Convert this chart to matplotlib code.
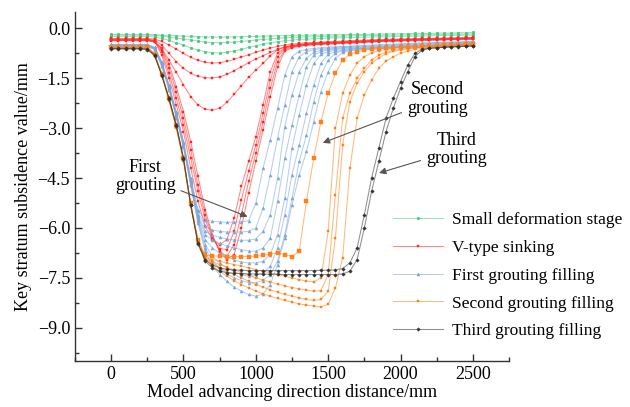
import matplotlib
matplotlib.use('Agg')
import matplotlib.pyplot as plt
from matplotlib.ticker import MultipleLocator, FuncFormatter

plt.rcParams['font.family'] = ['Liberation Serif', 'DejaVu Serif']

# distance along the model (mm)
dist = [0, 50, 100, 150, 200, 250, 300, 350, 400, 450,
        500, 550, 600, 650, 700, 750, 800, 850, 900, 950,
        1000, 1050, 1100, 1150, 1200, 1250, 1300, 1350, 1400, 1450,
        1500, 1550, 1600, 1650, 1700, 1750, 1800, 1850, 1900, 1950,
        2000, 2050, 2100, 2150, 2200, 2250, 2300, 2350, 2400, 2450,
        2500]

# small deformation stage
g1 = [-0.18, -0.18, -0.18, -0.18, -0.18, -0.18, -0.19, -0.2, -0.21, -0.22,
      -0.23, -0.24, -0.25, -0.25, -0.26, -0.26, -0.26, -0.25, -0.25, -0.24,
      -0.24, -0.23, -0.23, -0.22, -0.22, -0.21, -0.21, -0.2, -0.2, -0.2,
      -0.19, -0.19, -0.19, -0.18, -0.18, -0.18, -0.17, -0.17, -0.17, -0.16,
      -0.16, -0.16, -0.15, -0.15, -0.15, -0.14, -0.14, -0.14, -0.13, -0.13,
      -0.12]
g2 = [-0.2, -0.2, -0.2, -0.2, -0.2, -0.2, -0.21, -0.23, -0.26, -0.29,
      -0.32, -0.35, -0.38, -0.41, -0.43, -0.43, -0.42, -0.41, -0.39, -0.37,
      -0.35, -0.33, -0.31, -0.3, -0.28, -0.27, -0.26, -0.25, -0.25, -0.24,
      -0.24, -0.23, -0.23, -0.22, -0.22, -0.21, -0.21, -0.21, -0.2, -0.2,
      -0.2, -0.19, -0.19, -0.19, -0.18, -0.18, -0.18, -0.17, -0.17, -0.17,
      -0.16]
g3 = [-0.24, -0.24, -0.24, -0.24, -0.24, -0.24, -0.26, -0.3, -0.36, -0.43,
      -0.5, -0.58, -0.65, -0.7, -0.73, -0.74, -0.72, -0.68, -0.63, -0.57,
      -0.52, -0.47, -0.43, -0.4, -0.37, -0.35, -0.33, -0.32, -0.31, -0.3,
      -0.29, -0.28, -0.28, -0.27, -0.27, -0.26, -0.26, -0.25, -0.25, -0.24,
      -0.24, -0.23, -0.23, -0.23, -0.22, -0.22, -0.21, -0.21, -0.21, -0.2,
      -0.2]

# V-type sinking
r1 = [-0.3, -0.3, -0.3, -0.3, -0.3, -0.3, -0.32, -0.39, -0.5, -0.62,
      -0.75, -0.87, -0.96, -1.02, -1.04, -1.03, -0.99, -0.93, -0.86, -0.79,
      -0.72, -0.65, -0.59, -0.54, -0.5, -0.47, -0.45, -0.43, -0.42, -0.41,
      -0.4, -0.39, -0.38, -0.37, -0.36, -0.35, -0.34, -0.34, -0.33, -0.32,
      -0.32, -0.31, -0.31, -0.3, -0.3, -0.29, -0.29, -0.28, -0.28, -0.27,
      -0.27]
r2 = [-0.32, -0.32, -0.32, -0.32, -0.32, -0.32, -0.35, -0.5, -0.75, -1.0,
      -1.2, -1.35, -1.44, -1.48, -1.49, -1.46, -1.38, -1.27, -1.15, -1.03,
      -0.92, -0.82, -0.72, -0.63, -0.56, -0.51, -0.48, -0.46, -0.44, -0.43,
      -0.42, -0.41, -0.4, -0.39, -0.38, -0.37, -0.36, -0.35, -0.35, -0.34,
      -0.33, -0.33, -0.32, -0.32, -0.31, -0.31, -0.3, -0.3, -0.29, -0.29,
      -0.28]
r3 = [-0.33, -0.33, -0.33, -0.33, -0.33, -0.33, -0.38, -0.6, -0.95, -1.32,
      -1.7, -2.05, -2.3, -2.43, -2.46, -2.4, -2.22, -1.98, -1.72, -1.47,
      -1.25, -1.05, -0.82, -0.64, -0.56, -0.52, -0.49, -0.47, -0.45, -0.44,
      -0.43, -0.42, -0.41, -0.4, -0.39, -0.38, -0.37, -0.36, -0.36, -0.35,
      -0.34, -0.34, -0.33, -0.33, -0.32, -0.32, -0.31, -0.31, -0.3, -0.3,
      -0.29]
r4 = [-0.34, -0.34, -0.34, -0.34, -0.34, -0.34, -0.38, -0.8, -1.5, -2.3,
      -3.1, -4.2, -5.2, -5.95, -6.35, -6.5, -6.35, -5.7, -4.75, -4.0,
      -3.25, -2.3, -1.3, -0.75, -0.58, -0.53, -0.5, -0.48, -0.46, -0.45,
      -0.44, -0.43, -0.42, -0.41, -0.4, -0.39, -0.38, -0.37, -0.36, -0.36,
      -0.35, -0.34, -0.34, -0.33, -0.33, -0.32, -0.32, -0.31, -0.31, -0.3,
      -0.3]
r5 = [-0.35, -0.35, -0.35, -0.35, -0.35, -0.35, -0.39, -0.72, -1.35, -2.1,
      -2.9, -3.9, -4.9, -5.75, -6.3, -6.62, -6.65, -6.1, -5.15, -4.3,
      -3.5, -2.55, -1.55, -0.85, -0.6, -0.54, -0.51, -0.49, -0.47, -0.46,
      -0.45, -0.44, -0.43, -0.42, -0.41, -0.4, -0.39, -0.38, -0.37, -0.37,
      -0.36, -0.35, -0.35, -0.34, -0.34, -0.33, -0.33, -0.32, -0.32, -0.31,
      -0.31]
r6 = [-0.36, -0.36, -0.36, -0.36, -0.36, -0.36, -0.4, -0.65, -1.2, -1.9,
      -2.7, -3.65, -4.7, -5.6, -6.25, -6.7, -6.85, -6.5, -5.6, -4.6,
      -3.75, -2.8, -1.8, -1.0, -0.64, -0.56, -0.52, -0.5, -0.48, -0.47,
      -0.46, -0.45, -0.44, -0.43, -0.42, -0.41, -0.4, -0.39, -0.38, -0.38,
      -0.37, -0.36, -0.36, -0.35, -0.35, -0.34, -0.34, -0.33, -0.33, -0.32,
      -0.32]
r7 = [-0.37, -0.37, -0.37, -0.37, -0.37, -0.37, -0.41, -0.6, -1.08, -1.75,
      -2.5, -3.4, -4.45, -5.45, -6.2, -6.72, -6.95, -6.8, -6.0, -4.95,
      -4.0, -3.05, -2.05, -1.15, -0.68, -0.58, -0.54, -0.51, -0.49, -0.48,
      -0.47, -0.46, -0.45, -0.44, -0.43, -0.42, -0.41, -0.4, -0.39, -0.39,
      -0.38, -0.37, -0.37, -0.36, -0.36, -0.35, -0.35, -0.34, -0.34, -0.33,
      -0.33]

# first grouting filling
b1 = [-0.48, -0.48, -0.48, -0.48, -0.48, -0.48, -0.56, -1.0, -1.7, -2.5,
      -3.4, -4.5, -5.45, -5.75, -5.8, -5.82, -5.83, -5.83, -5.82, -5.78,
      -5.25, -4.2, -3.35, -2.4, -1.4, -0.85, -0.68, -0.63, -0.6, -0.58,
      -0.56, -0.55, -0.54, -0.53, -0.52, -0.51, -0.5, -0.49, -0.48, -0.47,
      -0.46, -0.45, -0.44, -0.43, -0.43, -0.42, -0.41, -0.41, -0.4, -0.4,
      -0.39]
b2 = [-0.49, -0.49, -0.49, -0.49, -0.49, -0.49, -0.57, -1.02, -1.72, -2.52,
      -3.42, -4.55, -5.5, -5.95, -6.06, -6.1, -6.12, -6.12, -6.12, -6.1,
      -6.0, -5.4, -4.4, -3.3, -2.3, -1.3, -0.85, -0.7, -0.64, -0.61,
      -0.59, -0.57, -0.56, -0.55, -0.54, -0.53, -0.52, -0.51, -0.5, -0.49,
      -0.48, -0.47, -0.46, -0.45, -0.44, -0.44, -0.43, -0.42, -0.42, -0.41,
      -0.4]
b3 = [-0.5, -0.5, -0.5, -0.5, -0.5, -0.5, -0.58, -1.04, -1.74, -2.55,
      -3.45, -4.6, -5.6, -6.1, -6.22, -6.28, -6.33, -6.36, -6.37, -6.37,
      -6.33, -6.1, -5.6, -4.5, -2.95, -2.0, -1.3, -0.9, -0.72, -0.66,
      -0.62, -0.6, -0.58, -0.57, -0.56, -0.55, -0.54, -0.53, -0.52, -0.51,
      -0.5, -0.49, -0.48, -0.47, -0.46, -0.45, -0.44, -0.43, -0.43, -0.42,
      -0.41]
b4 = [-0.51, -0.51, -0.51, -0.51, -0.51, -0.51, -0.59, -1.06, -1.76, -2.57,
      -3.47, -4.62, -5.65, -6.2, -6.36, -6.46, -6.54, -6.6, -6.65, -6.69,
      -6.7, -6.6, -6.3, -5.2, -3.9, -2.9, -2.0, -1.15, -0.8, -0.7,
      -0.65, -0.62, -0.6, -0.59, -0.58, -0.57, -0.56, -0.55, -0.54, -0.53,
      -0.52, -0.51, -0.5, -0.49, -0.48, -0.47, -0.46, -0.45, -0.44, -0.43,
      -0.42]
b5 = [-0.52, -0.52, -0.52, -0.52, -0.52, -0.52, -0.6, -1.08, -1.78, -2.6,
      -3.5, -4.65, -5.7, -6.35, -6.6, -6.76, -6.87, -6.96, -7.02, -7.05,
      -7.05, -7.0, -6.8, -6.2, -5.1, -3.6, -2.6, -1.7, -1.05, -0.78,
      -0.7, -0.66, -0.63, -0.61, -0.6, -0.59, -0.58, -0.57, -0.56, -0.55,
      -0.54, -0.53, -0.52, -0.51, -0.5, -0.49, -0.48, -0.47, -0.46, -0.45,
      -0.44]
b6 = [-0.53, -0.53, -0.53, -0.53, -0.53, -0.53, -0.61, -1.1, -1.8, -2.62,
      -3.52, -4.68, -5.75, -6.5, -6.85, -7.05, -7.2, -7.32, -7.4, -7.45,
      -7.43, -7.35, -7.15, -6.6, -5.6, -4.4, -3.5, -2.55, -1.7, -1.05,
      -0.78, -0.7, -0.66, -0.63, -0.61, -0.6, -0.59, -0.58, -0.57, -0.56,
      -0.55, -0.54, -0.53, -0.52, -0.51, -0.5, -0.49, -0.48, -0.47, -0.46,
      -0.45]
b7 = [-0.54, -0.54, -0.54, -0.54, -0.54, -0.54, -0.62, -1.12, -1.82, -2.65,
      -3.55, -4.7, -5.8, -6.6, -7.0, -7.2, -7.38, -7.5, -7.58, -7.64,
      -7.65, -7.58, -7.4, -7.0, -6.2, -5.1, -4.0, -3.2, -2.2, -1.4,
      -0.95, -0.75, -0.68, -0.65, -0.63, -0.62, -0.6, -0.59, -0.58, -0.57,
      -0.56, -0.55, -0.54, -0.53, -0.52, -0.51, -0.5, -0.49, -0.48, -0.47,
      -0.46]
b8 = [-0.55, -0.55, -0.55, -0.55, -0.55, -0.55, -0.63, -1.14, -1.85, -2.68,
      -3.58, -4.72, -5.85, -6.7, -7.15, -7.4, -7.6, -7.78, -7.9, -8.0,
      -8.05, -7.98, -7.7, -7.1, -6.3, -5.3, -4.4, -3.7, -2.8, -1.9,
      -1.3, -0.9, -0.72, -0.67, -0.65, -0.63, -0.62, -0.61, -0.6, -0.59,
      -0.58, -0.57, -0.56, -0.55, -0.54, -0.53, -0.52, -0.51, -0.5, -0.49,
      -0.48]

# second grouting filling
o1 = [-0.56, -0.56, -0.56, -0.56, -0.56, -0.56, -0.76, -1.36, -2.1, -2.9,
      -3.9, -5.25, -6.35, -6.82, -6.84, -6.85, -6.86, -6.86, -6.86, -6.86,
      -6.85, -6.82, -6.78, -6.75, -6.8, -6.86, -6.7, -5.2, -3.9, -2.8,
      -1.95, -1.35, -0.95, -0.78, -0.7, -0.66, -0.63, -0.61, -0.6, -0.58,
      -0.57, -0.56, -0.55, -0.54, -0.53, -0.52, -0.51, -0.5, -0.49, -0.48,
      -0.47]
o2 = [-0.57, -0.57, -0.57, -0.57, -0.57, -0.57, -0.77, -1.37, -2.12, -2.92,
      -3.92, -5.28, -6.38, -6.88, -6.95, -7.0, -7.05, -7.1, -7.15, -7.2,
      -7.25, -7.3, -7.35, -7.4, -7.45, -7.5, -7.55, -7.6, -7.62, -7.5,
      -6.1, -3.0, -1.95, -1.4, -1.05, -0.85, -0.73, -0.67, -0.63, -0.6,
      -0.58, -0.57, -0.56, -0.55, -0.54, -0.53, -0.52, -0.51, -0.5, -0.49,
      -0.48]
o3 = [-0.58, -0.58, -0.58, -0.58, -0.58, -0.58, -0.78, -1.38, -2.14, -2.95,
      -3.95, -5.3, -6.4, -6.9, -7.0, -7.1, -7.18, -7.26, -7.34, -7.42,
      -7.5, -7.57, -7.63, -7.69, -7.74, -7.79, -7.83, -7.87, -7.9, -7.88,
      -7.4, -5.0, -2.7, -1.95, -1.5, -1.2, -0.95, -0.8, -0.72, -0.66,
      -0.62, -0.6, -0.58, -0.56, -0.55, -0.54, -0.53, -0.52, -0.51, -0.5,
      -0.49]
o4 = [-0.59, -0.59, -0.59, -0.59, -0.59, -0.59, -0.79, -1.39, -2.16, -2.97,
      -3.97, -5.32, -6.42, -6.92, -7.05, -7.2, -7.3, -7.4, -7.5, -7.6,
      -7.7, -7.78, -7.86, -7.93, -8.0, -8.05, -8.1, -8.15, -8.18, -8.15,
      -7.9, -6.3, -3.5, -2.2, -1.65, -1.3, -1.05, -0.88, -0.76, -0.69,
      -0.64, -0.61, -0.59, -0.57, -0.56, -0.55, -0.54, -0.53, -0.52, -0.51,
      -0.5]
o5 = [-0.6, -0.6, -0.6, -0.6, -0.6, -0.6, -0.8, -1.4, -2.18, -3.0,
      -4.0, -5.35, -6.45, -6.95, -7.15, -7.3, -7.45, -7.58, -7.7, -7.8,
      -7.9, -7.98, -8.05, -8.12, -8.18, -8.23, -8.28, -8.32, -8.35, -8.37,
      -8.3, -7.8, -6.9, -4.2, -2.7, -2.0, -1.55, -1.2, -0.98, -0.85,
      -0.75, -0.68, -0.63, -0.6, -0.58, -0.56, -0.55, -0.54, -0.53, -0.52,
      -0.51]

# third grouting filling
k1 = [-0.6, -0.6, -0.6, -0.6, -0.6, -0.62, -0.8, -1.4, -2.1, -2.9,
      -3.9, -5.3, -6.45, -6.95, -7.12, -7.2, -7.24, -7.26, -7.27, -7.28,
      -7.28, -7.28, -7.28, -7.28, -7.28, -7.28, -7.28, -7.28, -7.28, -7.27,
      -7.27, -7.26, -7.22, -7.05, -6.6, -5.6, -4.5, -3.6, -2.7, -2.1,
      -1.6, -1.1, -0.75, -0.62, -0.6, -0.58, -0.56, -0.55, -0.54, -0.53,
      -0.52]
k2 = [-0.62, -0.62, -0.62, -0.62, -0.62, -0.64, -0.82, -1.42, -2.12, -2.92,
      -3.92, -5.32, -6.48, -7.0, -7.2, -7.3, -7.34, -7.36, -7.37, -7.38,
      -7.38, -7.39, -7.39, -7.39, -7.4, -7.4, -7.4, -7.4, -7.4, -7.4,
      -7.4, -7.4, -7.38, -7.3, -6.95, -6.0, -4.9, -4.0, -3.1, -2.4,
      -1.8, -1.3, -0.85, -0.65, -0.6, -0.58, -0.57, -0.56, -0.55, -0.54,
      -0.53]

groups = [
    ("Small deformation stage", [g1, g2, g3], (0.30, 0.78, 0.50), 'o', 2.0),
    ("V-type sinking", [r1, r2, r3, r4, r5, r6, r7], (1.0, 0.15, 0.15), 's', 1.8),
    ("First grouting filling", [b1, b2, b3, b4, b5, b6, b7, b8], (0.48, 0.65, 0.86), '^', 2.2),
    ("Second grouting filling", [o1, o2, o3, o4, o5], (1.0, 0.5, 0.08), 's', 1.9),
    ("Third grouting filling", [k1, k2], (0.2, 0.2, 0.2), 'D', 1.8),
]

fig = plt.figure(figsize=(6.3, 4.07), dpi=100)
ax = fig.add_axes([0.119, 0.113, 0.689, 0.858])

for label, curves, c, mk, ms in groups:
    last = len(curves) - 1
    for i, y in enumerate(curves):
        size = ms
        if label.startswith('Second') and i == 0:
            size = 3.0   # the curve the arrow points at has bigger marks
        ax.plot(dist, y, color=c + (0.55,), lw=0.75, marker=mk, ms=size,
                mfc=c, mec=c, mew=0.3, label=label if i == last else None)

ax.set_xlim(-250, 2750)
ax.set_ylim(-10.0, 0.5)
ax.xaxis.set_major_locator(MultipleLocator(500))
ax.xaxis.set_minor_locator(MultipleLocator(250))
ax.yaxis.set_major_locator(MultipleLocator(1.5))
ax.yaxis.set_minor_locator(MultipleLocator(0.75))
ax.yaxis.set_major_formatter(FuncFormatter(lambda v, p: ('%.1f' % v).replace('-', '\u2212')))
ax.tick_params(which='both', direction='in', labelsize=13, width=1.0, color='#333333')
ax.tick_params(which='major', length=5)
ax.tick_params(which='minor', length=3)
for s in ['top', 'right']:
    ax.spines[s].set_visible(False)
for s in ['left', 'bottom']:
    ax.spines[s].set_linewidth(1.0)
    ax.spines[s].set_color('#333333')

ax.set_xlabel('Model advancing direction distance/mm', fontsize=13, labelpad=1)
ax.set_ylabel('Key stratum subsidence value/mm', fontsize=13, labelpad=4)

arrow = dict(arrowstyle='-|>', color='#555555', lw=0.8, mutation_scale=10)
ax.annotate('First\ngrouting', xy=(961, -5.69), xytext=(235, -4.46),
            fontsize=13, ha='center', va='center', linespacing=1.1, arrowprops=arrow)
ax.annotate('Second\ngrouting', xy=(1445, -3.47), xytext=(2254, -2.12),
            fontsize=13, ha='center', va='center', linespacing=1.1, arrowprops=arrow)
ax.annotate('Third\ngrouting', xy=(1833, -4.37), xytext=(2386, -3.65),
            fontsize=13, ha='center', va='center', linespacing=1.1, arrowprops=arrow)

ax.legend(loc='upper left', bbox_to_anchor=(0.717, 0.448), frameon=False,
          fontsize=12.5, handlelength=2.85, numpoints=1, labelspacing=0.68,
          handletextpad=0.55, borderaxespad=0)

fig.savefig('out.png', dpi=100)
